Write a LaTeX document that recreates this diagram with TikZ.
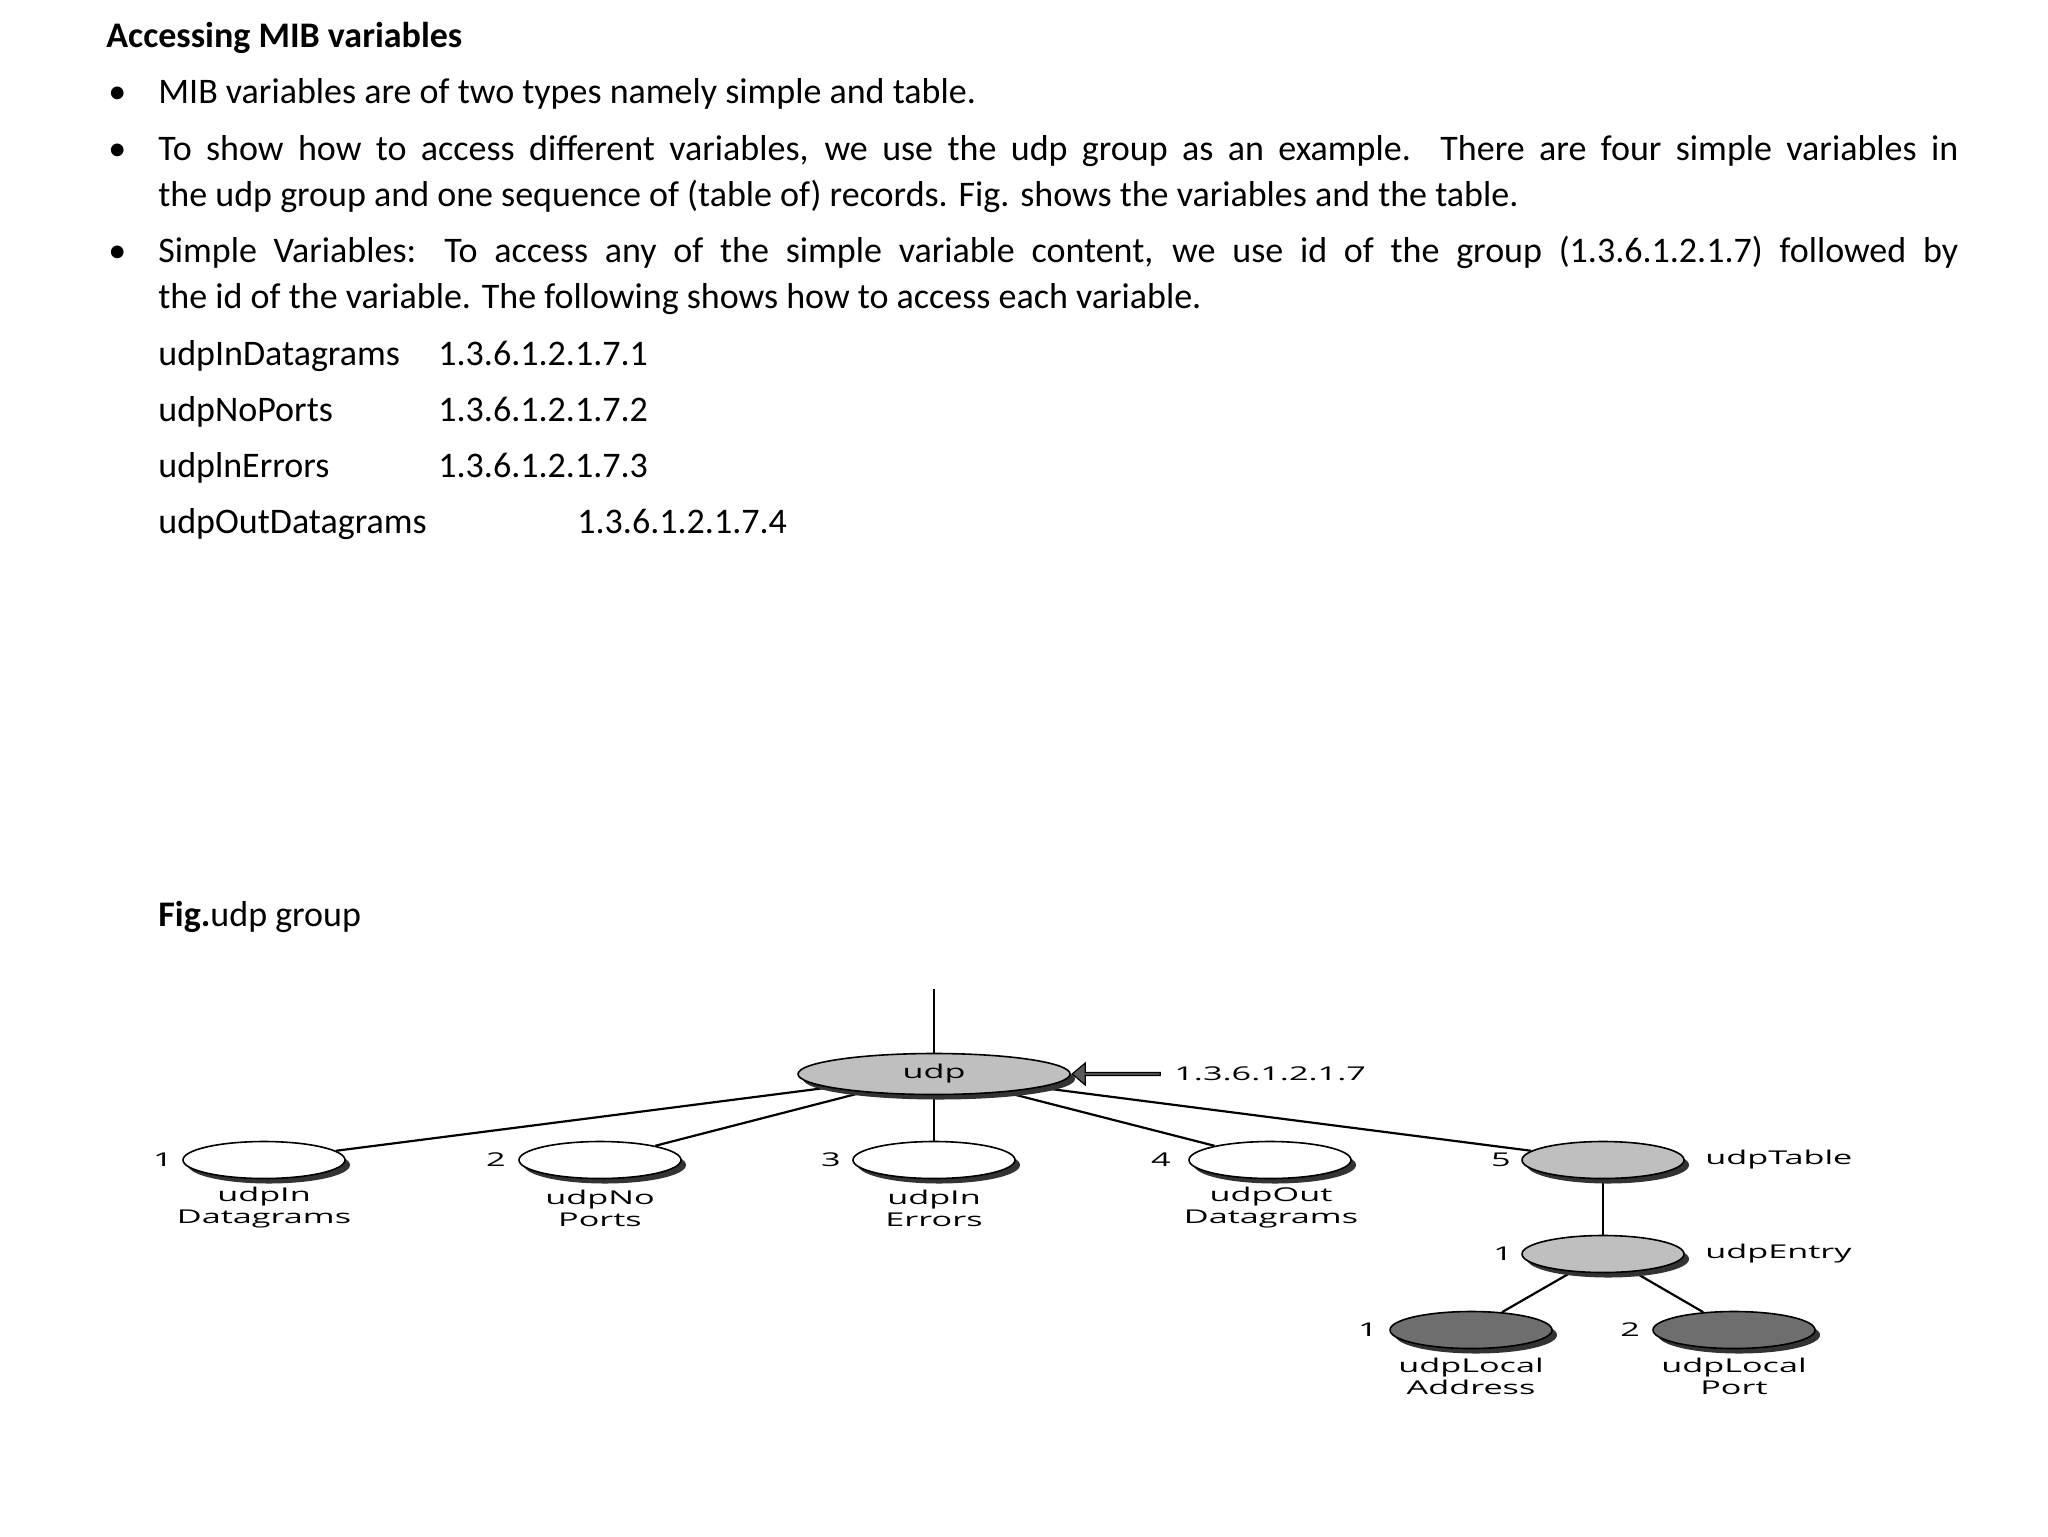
\documentclass[tikz,border=0pt]{standalone}
\usepackage{fontspec}
\setmainfont{Carlito}
\newfontfamily\treefont[FakeStretch=1.8]{Open Sans}
\usetikzlibrary{shapes.geometric,shapes.arrows,shadows,backgrounds}

\tikzset{
	txt/.style={anchor=base west,inner sep=0pt,font=\fontsize{18}{22}\selectfont},
	oval/.style={ellipse,draw=black,line width=0.8pt,minimum width=81pt,minimum height=18.5pt,inner sep=0pt,
		general shadow={shadow xshift=2.5pt,shadow yshift=-2.5pt,fill=black!80}},
	edge/.style={line width=1.1pt,black},
	lbl/.style={inner sep=0pt,font=\treefont\fontsize{9.5}{11}\selectfont,align=center},
	midgray/.style={fill=black!25},
	darkgray/.style={fill=black!57}
}
\newcommand{\wideline}[1]{\makebox[900pt][s]{#1}}

\begin{document}
\begin{tikzpicture}[x=0.5pt,y=-0.5pt]
	\useasboundingbox (0,0) rectangle (2048,1536);
	% text block
	\node[txt] (title) at (106,48) {\textbf{Accessing MIB variables}};
	\node[txt] (b1) at (108,104) {•};
	\node[txt] (l1) at (158,104) {MIB variables are of two types namely simple and table.};
	\node[txt] (b2) at (108,160) {•};
	\node[txt] (l2) at (158,160) {\wideline{To show how to access different variables, we use the udp group as an example. There are four simple variables in}};
	\node[txt] (l3) at (158,206) {the udp group and one sequence of (table of) records. Fig. shows the variables and the table.};
	\node[txt] (b3) at (108,262) {•};
	\node[txt] (l4) at (158,262) {\wideline{Simple Variables: To access any of the simple variable content, we use id of the group (1.3.6.1.2.1.7) followed by}};
	\node[txt] (l5) at (158,308) {the id of the variable. The following shows how to access each variable.};
	\node[txt] (v1) at (158,365) {udpInDatagrams};
	\node[txt] (id1) at (438,365) {1.3.6.1.2.1.7.1};
	\node[txt] (v2) at (158,421) {udpNoPorts};
	\node[txt] (id2) at (438,421) {1.3.6.1.2.1.7.2};
	\node[txt] (v3) at (158,477) {udplnErrors};
	\node[txt] (id3) at (438,477) {1.3.6.1.2.1.7.3};
	\node[txt] (v4) at (158,533) {udpOutDatagrams};
	\node[txt] (id4) at (577,533) {1.3.6.1.2.1.7.4};
	\node[txt] (figcap) at (158,926) {\textbf{Fig.}udp group};
	% tree
	\node[oval,midgray,minimum width=136pt,minimum height=20.5pt] (udp) at (934,1074) {\treefont\fontsize{9.5}{11}\selectfont udp};
	\node[oval,fill=white] (n1) at (264,1160) {};
	\node[oval,fill=white] (n2) at (600,1160) {};
	\node[oval,fill=white] (n3) at (934,1160) {};
	\node[oval,fill=white] (n4) at (1270,1160) {};
	\node[oval,midgray] (n5) at (1603,1160) {};
	\node[oval,midgray] (entry) at (1603,1254) {};
	\node[oval,darkgray] (addr) at (1471,1330) {};
	\node[oval,darkgray] (port) at (1734,1330) {};
	\coordinate (top) at (934,989);
	\begin{scope}[on background layer]
		\draw[edge] (top)--(udp);
		\draw[edge] (udp)--(n1);
		\draw[edge] (udp)--(n2);
		\draw[edge] (udp)--(n3);
		\draw[edge] (udp)--(n4);
		\draw[edge] (udp)--(n5);
		\draw[edge,line width=1.4pt] (n5)--(entry);
		\draw[edge] (entry)--(addr);
		\draw[edge] (entry)--(port);
	\end{scope}
	% numbers
	\node[lbl] (t1) at (163,1160) {1};
	\node[lbl] (t2) at (496,1160) {2};
	\node[lbl] (t3) at (831,1160) {3};
	\node[lbl] (t4) at (1161,1160) {4};
	\node[lbl] (t5) at (1501,1160) {5};
	\node[lbl] (t6) at (1503,1254) {1};
	\node[lbl] (t7) at (1368,1330) {1};
	\node[lbl] (t8) at (1630,1330) {2};
	% names
	\node[lbl] (a1) at (264,1208) {udpIn\\Datagrams};
	\node[lbl] (a2) at (600,1208) {udpNo\\Ports};
	\node[lbl] (a3) at (934,1208) {udpIn\\Errors};
	\node[lbl] (a4) at (1271,1208) {udpOut\\Datagrams};
	\node[lbl] (a5) at (1471,1376) {udpLocal\\Address};
	\node[lbl] (a6) at (1734,1376) {udpLocal\\Port};
	\node[lbl,anchor=west] (a7) at (1705,1160) {udpTable};
	\node[lbl,anchor=west] (a8) at (1705,1254) {udpEntry};
	\node[lbl,anchor=west] (oid) at (1174,1074) {1.3.6.1.2.1.7};
	\node[single arrow,draw=black,fill=black!65,line width=0.6pt,shape border rotate=180,minimum width=11pt,minimum height=44pt,
		single arrow head extend=2pt,single arrow tip angle=80,inner sep=0pt] (ptr) at (1117,1074) {};
\end{tikzpicture}
\end{document}
